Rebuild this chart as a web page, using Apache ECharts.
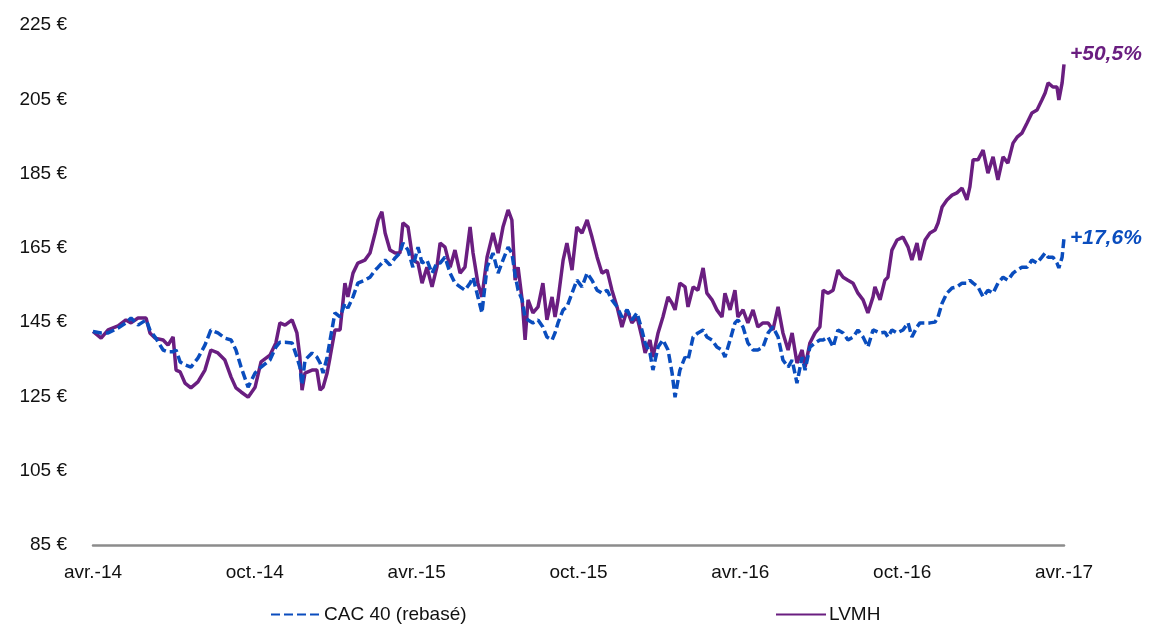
<!DOCTYPE html>
<html>
<head>
<meta charset="utf-8">
<script src="https://cdn.jsdelivr.net/npm/echarts@6/dist/echarts.min.js"></script>
<style>
html,body{margin:0;padding:0;background:#fff;}
#chart{width:1149px;height:626px;}
</style>
</head>
<body>
<div id="chart"></div>
<script>
// Time in months since April 2014
const months = [0,0.30,0.56,0.93,1.22,1.41,1.67,1.97,2.11,2.30,2.60,2.78,2.97,3.08,3.23,3.41,3.63,3.89,4.15,4.37,4.63,4.89,5.12,5.30,5.49,5.75,6.01,6.23,6.56,6.78,6.93,7.12,7.38,7.56,7.67,7.75,7.86,8.12,8.30,8.42,8.53,8.68,8.79,8.97,9.16,9.34,9.45,9.64,9.82,10.08,10.27,10.46,10.57,10.71,10.83,11.01,11.20,11.38,11.49,11.68,11.86,12.05,12.20,12.38,12.57,12.75,12.87,13.05,13.24,13.42,13.61,13.79,13.98,14.09,14.27,14.42,14.61,14.83,15.02,15.20,15.39,15.53,15.65,15.76,15.91,16.02,16.13,16.31,16.50,16.68,16.83,17.02,17.13,17.24,17.43,17.57,17.76,17.94,18.13,18.32,18.50,18.69,18.87,19.06,19.24,19.43,19.61,19.80,19.98,20.17,20.35,20.47,20.65,20.76,20.95,21.13,21.32,21.47,21.58,21.69,21.76,21.95,22.06,22.25,22.43,22.62,22.76,22.95,23.13,23.32,23.43,23.62,23.80,23.91,24.10,24.28,24.47,24.65,24.84,25.03,25.21,25.40,25.58,25.77,25.92,26.10,26.29,26.40,26.58,26.77,26.95,27.07,27.25,27.44,27.62,27.81,27.99,28.18,28.36,28.55,28.73,28.92,28.99,29.18,29.36,29.47,29.62,29.81,30.03,30.22,30.36,30.55,30.66,30.85,31.03,31.22,31.33,31.48,31.66,31.85,32.03,32.22,32.40,32.51,32.63,32.81,33.00,33.18,33.37,33.55,33.74,33.92,34.11,34.26,34.44,34.63,34.81,35.00,35.18,35.30,35.41,35.59,35.74,35.81,35.93,36];

const lvmh = [142.5,140.7,142.9,144.0,145.6,144.8,146.1,146.1,142.1,140.7,140.2,138.8,141.0,132.1,131.6,128.6,127.3,128.9,132.1,137.5,136.7,134.8,130.2,127.3,126.2,124.8,127.5,134.3,136.1,139.4,144.8,144.2,145.6,142.1,135.6,126.7,131.3,132.1,132.1,126.7,127.5,131.3,135.6,142.9,142.9,155.5,151.8,158.2,160.9,161.7,163.6,169.0,172.5,174.7,169.0,164.4,163.6,163.6,171.7,170.6,161.7,160.9,155.5,159.8,154.5,159.8,166.3,165.2,159.8,164.4,158.2,159.8,170.6,163.6,155.5,151.8,162.5,169.0,163.6,170.6,175.2,172.5,156.3,159.8,151.0,140.2,151.0,147.5,149.1,155.5,145.6,151.8,146.4,151.0,161.7,166.3,159.0,170.6,169.0,172.5,167.9,162.5,158.2,159.0,153.6,149.1,143.7,148.3,144.8,146.4,141.0,136.7,140.2,135.6,142.1,146.4,151.8,150.1,148.3,152.8,155.5,154.5,149.1,154.5,153.6,159.6,152.8,151.0,148.3,146.4,152.8,148.3,153.6,146.4,148.3,144.8,148.3,143.7,144.8,144.8,142.9,149.1,142.1,137.5,142.1,134.0,137.5,132.9,139.4,142.1,143.7,153.6,152.8,153.6,159.0,157.1,156.3,155.5,152.8,151.0,147.5,151.8,154.5,151.0,156.3,157.1,164.4,167.1,167.9,165.2,161.7,166.3,161.7,167.1,169.0,169.8,171.7,176.0,177.9,179.2,179.8,181.1,177.9,181.4,188.7,188.7,191.3,185.1,189.5,183.3,189.5,187.8,193.2,194.8,195.9,198.6,201.3,202.1,204.8,206.7,209.4,208.3,208.3,204.8,209.4,214.4];

const cac40 = [142.5,142.1,142.1,143.4,144.8,146.1,144.2,145.6,142.9,141.0,137.5,137.0,137.0,137.5,134.3,133.5,132.9,135.3,138.8,142.9,142.1,140.7,140.2,137.5,132.9,127.5,131.3,132.9,134.8,138.3,139.6,139.6,139.4,135.6,132.9,128.1,134.8,136.7,135.6,134.0,131.3,135.6,140.2,147.5,146.4,150.1,148.8,151.8,155.5,156.3,157.1,159.0,159.8,160.9,161.7,160.4,162.3,163.6,166.3,164.4,159.8,165.2,160.9,161.7,158.2,160.9,160.9,162.5,158.2,155.5,154.5,153.6,155.5,157.1,151.8,147.5,159.8,163.6,158.2,161.7,165.2,163.6,157.7,153.6,151.0,146.4,145.6,144.8,145.6,143.7,141.0,140.2,142.1,144.8,148.3,149.1,152.8,156.3,154.5,158.2,156.3,153.6,152.8,153.6,151.0,149.1,146.4,148.3,145.6,147.5,142.9,139.4,136.7,132.1,138.3,140.2,137.5,131.3,124.8,129.4,132.1,135.6,134.8,141.0,142.1,142.9,141.0,140.2,138.3,137.5,135.6,140.2,144.8,145.6,143.7,139.4,137.5,137.5,138.3,142.1,143.7,141.0,134.8,132.9,134.8,128.6,135.6,132.1,138.3,139.4,140.2,140.2,141.0,138.3,142.9,142.1,140.2,141.0,142.9,141.0,138.3,142.9,142.9,142.1,142.3,141.0,142.9,142.1,142.9,144.8,141.0,143.7,144.8,144.8,144.8,145.0,146.4,150.1,152.8,154.2,154.5,155.5,155.5,156.3,155.5,154.5,151.8,153.6,152.8,155.5,157.1,156.3,158.2,159.0,159.8,159.8,161.7,160.9,162.5,163.6,162.5,162.5,160.9,159.6,162.5,167.6];

const xTickLabels = ['avr.-14','oct.-14','avr.-15','oct.-15','avr.-16','oct.-16','avr.-17'];
const yTickValues = [85,105,125,145,165,185,205,225];
const seriesNames = ['CAC 40 (rebasé)','LVMH'];
const endTexts = ['+17,6%','+50,5%'];

const BLUE = '#0A4DBE';
const PURPLE = '#6A1E80';
const FONT = 'Liberation Sans, Arial, sans-serif';

const chart = echarts.init(document.getElementById('chart'), null, {renderer:'canvas'});

function pairs(ys){ return months.map((m,i)=>[m, ys[i]]); }

const legendCommon = {top:600,itemWidth:50,itemHeight:16,itemGap:8,
  itemStyle:{opacity:0},
  textStyle:{fontFamily:FONT,fontSize:19,color:'#111',padding:[0,0,0,-2]}};

chart.setOption({
  animation:false,
  backgroundColor:'#fff',
  textStyle:{fontFamily:FONT},
  grid:{left:93,right:85,top:25,bottom:81,containLabel:false},
  legend:[
    Object.assign({left:265,data:[seriesNames[0]]}, legendCommon),
    Object.assign({left:770,data:[seriesNames[1]]}, legendCommon)
  ],
  xAxis:{
    type:'value',min:0,max:36,interval:6,
    axisLine:{show:true,lineStyle:{color:'#8C8C8C',width:2.5}},
    axisTick:{show:false},
    splitLine:{show:false},
    axisLabel:{color:'#111',fontSize:19,fontFamily:FONT,margin:18,
      formatter:v=>xTickLabels[Math.round(v/6)] || ''}
  },
  yAxis:{
    type:'value',min:85,max:225,
    axisLine:{show:false},axisTick:{show:false},splitLine:{show:false},
    axisLabel:{color:'#111',fontSize:19,fontFamily:FONT,margin:26,
      customValues:yTickValues,
      formatter:v=>v+' €'}
  },
  series:[
    {name:seriesNames[0],type:'line',data:pairs(cac40),showSymbol:false,symbol:'none',
     z:3,
     lineStyle:{color:BLUE,width:3.5,type:[9,4]},itemStyle:{color:BLUE},
     endLabel:{show:true,formatter:endTexts[0],color:BLUE,fontSize:21,fontWeight:'bold',
       fontStyle:'italic',fontFamily:FONT,distance:6,offset:[0,0]}},
    {name:seriesNames[1],type:'line',data:pairs(lvmh),showSymbol:false,symbol:'none',
     z:2,
     lineStyle:{color:PURPLE,width:3.5},itemStyle:{color:PURPLE},
     endLabel:{show:true,formatter:endTexts[1],color:PURPLE,fontSize:21,fontWeight:'bold',
       fontStyle:'italic',fontFamily:FONT,distance:6,offset:[0,-10]}}
  ]
});
</script>
</body>
</html>
